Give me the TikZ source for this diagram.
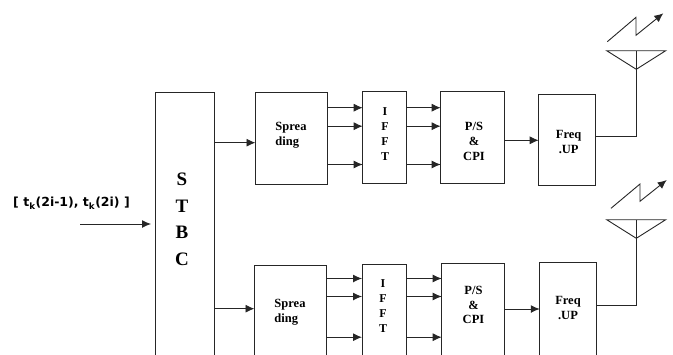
\documentclass[tikz,border=0pt]{standalone}
\usepackage{fontspec}
\setmainfont{Liberation Serif}
\setsansfont{DejaVu Sans}
\usetikzlibrary{arrows.meta}

\tikzset{
  block/.style={draw=black!85, line width=0.9pt, inner sep=0pt, outer sep=0pt},
  wire/.style={draw=black!85, line width=0.9pt},
  flow/.style={wire, -{Latex[length=9pt,width=8pt]}},
  caption/.style={font=\bfseries\fontsize{12.5}{14.6}\selectfont, inner sep=0pt, align=center},
  letter/.style={font=\bfseries\fontsize{12}{15}\selectfont, inner sep=0pt, align=center},
}

\begin{document}
\begin{tikzpicture}[x=1pt,y=-1pt]

\useasboundingbox (0,0) rectangle (673,354);
\clip (0,0) rectangle (673,354);

\coordinate (input-start) at (80,224);
\coordinate (stbc-top-out) at (0,142.7);
\coordinate (stbc-bottom-out) at (0,308.7);

\coordinate (line-a-top) at (0,107.7);
\coordinate (line-b-top) at (0,126.2);
\coordinate (line-c-top) at (0,164.5);
\coordinate (parallel-top) at (0,140.3);
\coordinate (feed-top) at (0,136.3);

\coordinate (line-a-bottom) at (0,278.5);
\coordinate (line-b-bottom) at (0,296.5);
\coordinate (line-c-bottom) at (0,337.2);
\coordinate (parallel-bottom) at (0,309);
\coordinate (feed-bottom) at (0,305.3);

\coordinate (antenna-top-left) at (606.7,50.7);
\coordinate (antenna-top-right) at (665.7,50.7);
\coordinate (antenna-top-mid) at (636.3,50.7);
\coordinate (antenna-top-tip) at (636.3,69.3);

\coordinate (antenna-bottom-left) at (606.7,219.7);
\coordinate (antenna-bottom-right) at (665.7,219.7);
\coordinate (antenna-bottom-mid) at (636.3,219.7);
\coordinate (antenna-bottom-tip) at (636.3,238.3);

\node [block, minimum width=59pt, minimum height=288pt] (stbc) at (184.5,236) {};

\node [block, minimum width=72pt, minimum height=92pt] (spreading-top) at (291.5,138.8) {};
\node [block, minimum width=43.6pt, minimum height=92pt] (ifft-top) at (384.5,137.3) {};
\node [block, minimum width=63.6pt, minimum height=92pt] (ps-top) at (472.5,137.4) {};
\node [block, minimum width=56.4pt, minimum height=91.4pt] (freq-top) at (566.9,140) {};

\node [block, minimum width=72pt, minimum height=120pt] (spreading-bottom) at (290.5,325.7) {};
\node [block, minimum width=44pt, minimum height=120pt] (ifft-bottom) at (384,324.3) {};
\node [block, minimum width=62.6pt, minimum height=120pt] (ps-bottom) at (473,323.3) {};
\node [block, minimum width=56.3pt, minimum height=120pt] (freq-bottom) at (567.9,322.3) {};

\draw [flow, shorten >=4pt] (input-start) -- (stbc.west |- input-start);

\draw [flow] (stbc.east |- stbc-top-out) -- (spreading-top.west |- stbc-top-out);
\draw [flow] (spreading-top.east |- line-a-top) -- (ifft-top.west |- line-a-top);
\draw [flow] (spreading-top.east |- line-b-top) -- (ifft-top.west |- line-b-top);
\draw [flow] (spreading-top.east |- line-c-top) -- (ifft-top.west |- line-c-top);
\draw [flow] (ifft-top.east |- line-a-top) -- (ps-top.west |- line-a-top);
\draw [flow] (ifft-top.east |- line-b-top) -- (ps-top.west |- line-b-top);
\draw [flow] (ifft-top.east |- line-c-top) -- (ps-top.west |- line-c-top);
\draw [flow] (ps-top.east |- parallel-top) -- (freq-top.west |- parallel-top);
\draw [wire] (freq-top.east |- feed-top) -| (antenna-top-mid);

\draw [flow] (stbc.east |- stbc-bottom-out) -- (spreading-bottom.west |- stbc-bottom-out);
\draw [flow] (spreading-bottom.east |- line-a-bottom) -- (ifft-bottom.west |- line-a-bottom);
\draw [flow] (spreading-bottom.east |- line-b-bottom) -- (ifft-bottom.west |- line-b-bottom);
\draw [flow] (spreading-bottom.east |- line-c-bottom) -- (ifft-bottom.west |- line-c-bottom);
\draw [flow] (ifft-bottom.east |- line-a-bottom) -- (ps-bottom.west |- line-a-bottom);
\draw [flow] (ifft-bottom.east |- line-b-bottom) -- (ps-bottom.west |- line-b-bottom);
\draw [flow] (ifft-bottom.east |- line-c-bottom) -- (ps-bottom.west |- line-c-bottom);
\draw [flow] (ps-bottom.east |- parallel-bottom) -- (freq-bottom.west |- parallel-bottom);
\draw [wire] (freq-bottom.east |- feed-bottom) -| (antenna-bottom-mid);

\draw [wire] (antenna-top-left) -- (antenna-top-right) -- (antenna-top-tip) -- cycle;
\draw [wire] (antenna-bottom-left) -- (antenna-bottom-right) -- (antenna-bottom-tip) -- cycle;

\draw [flow] (607.3,41.7) -- (636,17.3) -- (636,35.3) -- (663.3,13.3);
\draw [flow] (611,208.3) -- (640,184) -- (640,201.3) -- (666.7,180);

\node [font=\sffamily\bfseries\fontsize{12.5}{14}\selectfont, inner sep=0pt] (input-label) at (71.5,203.5) {[ t\textsubscript{k}(2i-1), t\textsubscript{k}(2i) ]};

\node [font=\bfseries\fontsize{19}{26.5}\selectfont, inner sep=0pt, align=center] (stbc-label) at (182,219.5) {S\\T\\B\\C};

\node [caption, align=left] (spreading-top-label) at (291,135) {Sprea\\ding};
\node [letter] (ifft-top-label) at (385,134) {I\\F\\F\\T};
\node [caption] (ps-top-label) at (474,141.5) {P/S\\\&\\CPI};
\node [caption] (freq-top-label) at (568.7,142) {Freq\\.UP};

\node [caption, align=left] (spreading-bottom-label) at (290,312.5) {Sprea\\ding};
\node [letter] (ifft-bottom-label) at (383,306.5) {I\\F\\F\\T};
\node [caption] (ps-bottom-label) at (473.5,305) {P/S\\\&\\CPI};
\node [caption] (freq-bottom-label) at (568,308) {Freq\\.UP};

\end{tikzpicture}
\end{document}
